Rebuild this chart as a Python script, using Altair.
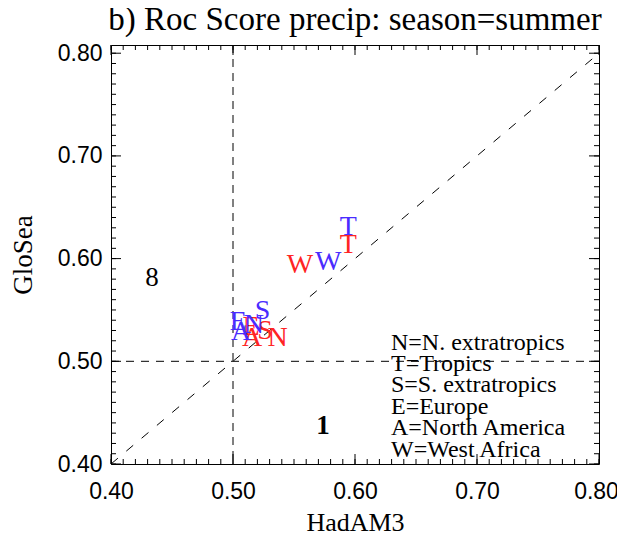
import altair as alt
import pandas as pd
import numpy as np

# ---- data ----
regions = ["N", "T", "S", "E", "A", "W"]
red_x = [0.5365, 0.5945, 0.5262, 0.5148, 0.5156, 0.5549]
red_y = [0.5224, 0.6132, 0.5295, 0.5334, 0.5227, 0.5938]
blue_x = [0.5172, 0.5945, 0.5242, 0.5043, 0.5066, 0.5781]
blue_y = [0.5353, 0.6311, 0.5490, 0.5383, 0.5285, 0.5970]

key_lines = ["N=N. extratropics", "T=Tropics", "S=S. extratropics",
             "E=Europe", "A=North America", "W=West Africa"]
key_x = [0.6295] * 6
key_y = [0.5178, 0.4974, 0.4769, 0.4555, 0.4351, 0.4136]

count_text = ["8", "1"]
count_x = [0.4336, 0.5738]
count_y = [0.5810, 0.4370]

x_major = [0.40, 0.50, 0.60, 0.70, 0.80]
y_major = [0.40, 0.50, 0.60, 0.70, 0.80]
x_minor = [round(v, 2) for v in np.arange(0.40, 0.8001, 0.01)]
y_minor = [round(v, 2) for v in np.arange(0.40, 0.8001, 0.01)]

W, H = 488, 419
SERIF = "Liberation Serif"
SANS = "Liberation Sans"

xs = alt.Scale(domain=[0.40, 0.80], nice=False, zero=False)
ys = alt.Scale(domain=[0.40, 0.808], nice=False, zero=False)

pts = pd.DataFrame({
    "x": red_x + blue_x,
    "y": red_y + blue_y,
    "lab": regions + regions,
    "grp": ["red"] * 6 + ["blue"] * 6,
    "order": [0] * 6 + [1] * 6,
})

AX = alt.Axis(values=x_major, format=".2f", ticks=False, domain=False, grid=False,
              labelFont=SANS, labelFontSize=23, labelColor="black", labelPadding=16,
              labelOffset=alt.ExprRef("datum.value >= 0.8 ? -3 : 0"),
              title="HadAM3", titleFont=SERIF, titleFontSize=26, titleFontWeight="normal",
              titleColor="black", titlePadding=6, labelFlush=False)
AY = alt.Axis(values=y_major, format=".2f", ticks=False, domain=False, grid=False,
              labelFont=SANS, labelFontSize=23, labelColor="black", labelPadding=9,
              title="GloSea", titleFont=SERIF, titleFontSize=27, titleFontWeight="normal",
              titleColor="black", titlePadding=20, labelFlush=False)


def X(f):
    return alt.X(f, scale=xs, axis=AX)


def Y(f):
    return alt.Y(f, scale=ys, axis=AY)


letters = alt.Chart(pts).mark_text(font=SERIF, fontSize=28, baseline="middle", align="center").encode(
    x=X("x:Q"), y=Y("y:Q"),
    text="lab:N",
    color=alt.Color("grp:N", scale=alt.Scale(domain=["red", "blue"], range=["#ff2424", "#4a2cff"]), legend=None),
    order="order:Q",
)

diag = alt.Chart(pd.DataFrame({"x": [0.40, 0.80], "y": [0.40, 0.80]})).mark_line(
    color="black", strokeWidth=1, strokeDash=[9, 11]).encode(x=X("x:Q"), y=Y("y:Q"))

vline = alt.Chart(pd.DataFrame({"x": [0.50]})).mark_rule(
    color="black", strokeWidth=1, strokeDash=[8, 6]).encode(x=X("x:Q"))
hline = alt.Chart(pd.DataFrame({"y": [0.50]})).mark_rule(
    color="black", strokeWidth=1, strokeDash=[8, 7]).encode(y=Y("y:Q"))


def xticks(vals, length, top):
    y0 = 0 if top else H
    y1 = length if top else H - length
    return alt.Chart(pd.DataFrame({"x": vals})).mark_rule(color="black", strokeWidth=1).encode(
        x=X("x:Q"), y=alt.value(y0), y2=alt.value(y1))


def yticks(vals, length, left):
    x0 = 0 if left else W
    x1 = length if left else W - length
    return alt.Chart(pd.DataFrame({"y": vals})).mark_rule(color="black", strokeWidth=1).encode(
        y=Y("y:Q"), x=alt.value(x0), x2=alt.value(x1))


ticks = [
    xticks(x_minor, 5, True), xticks(x_minor, 5, False),
    xticks(x_major, 10, True), xticks(x_major, 10, False),
    yticks(y_minor, 5, True), yticks(y_minor, 5, False),
    yticks(y_major, 10, True), yticks(y_major, 10, False),
]

key = alt.Chart(pd.DataFrame({"t": key_lines, "x": key_x, "y": key_y})).mark_text(
    font=SERIF, fontSize=24, align="left", baseline="middle", color="black").encode(
    x=X("x:Q"), y=Y("y:Q"), text="t:N")

count8 = alt.Chart(pd.DataFrame({"t": count_text[:1], "x": count_x[:1], "y": count_y[:1]})).mark_text(
    font=SERIF, fontSize=27, align="center", baseline="middle", color="black").encode(
    x=X("x:Q"), y=Y("y:Q"), text="t:N")
count1 = alt.Chart(pd.DataFrame({"t": count_text[1:], "x": count_x[1:], "y": count_y[1:]})).mark_text(
    font=SERIF, fontSize=27, fontWeight="bold", align="center", baseline="middle", color="black").encode(
    x=X("x:Q"), y=Y("y:Q"), text="t:N")

chart = alt.layer(diag, vline, hline, *ticks, key, count8, count1, letters).properties(
    width=W, height=H,
    background="white",
    title=alt.Title("b) Roc Score precip: season=summer", font=SERIF, fontSize=33,
                    fontWeight="normal", color="black", anchor="middle", offset=5),
    autosize=alt.AutoSizeParams(type="none"),
    padding={"left": 103, "top": 37, "right": 18, "bottom": 73},
).configure_view(stroke="black", strokeWidth=1)

chart.save("out.html", embed_options={"renderer": "svg", "actions": False})
